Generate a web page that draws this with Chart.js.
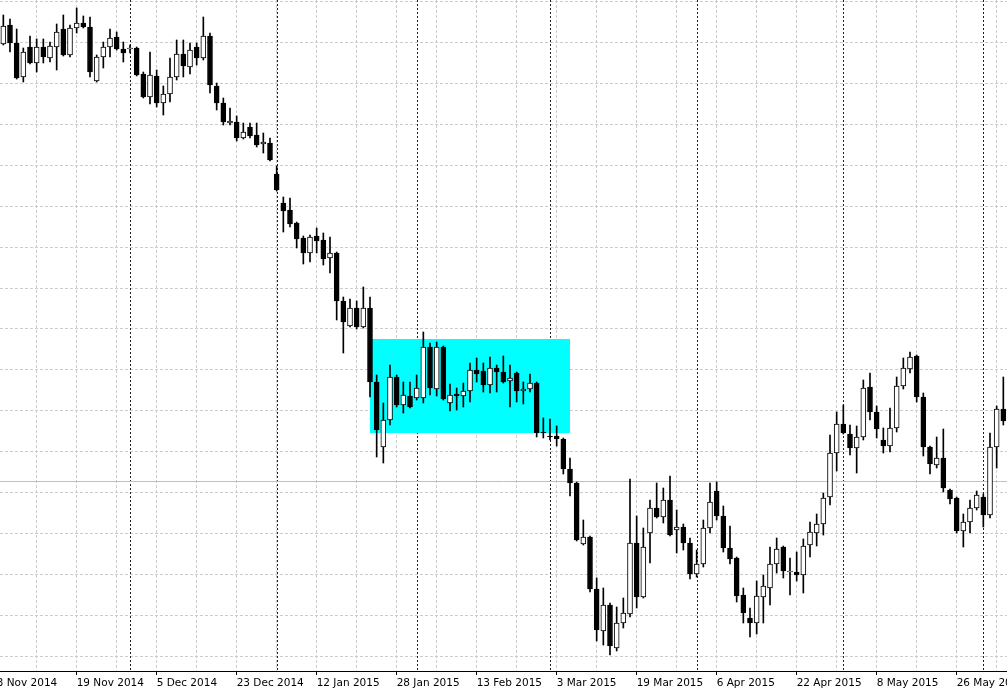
<!DOCTYPE html>
<html>
<head>
<meta charset="utf-8">
<title>Daily candles</title>
<script src="https://cdn.jsdelivr.net/npm/chart.js@4.4.1/dist/chart.umd.min.js"></script>
<style>
    html, body { margin: 0; padding: 0; background: #fff; }
    #wrap { width: 1007px; height: 691px; }
</style>
</head>
<body>
<div id="wrap"><canvas id="myChart" width="1007" height="691"></canvas></div>
<script>
/*-----------------------------Data (one bar per trading day, first bar = 4 Nov 2014)------------*/
const opens = [
    656, 675, 657, 623, 653, 637, 653, 642, 653, 671,
    645, 672, 677, 673, 619, 643, 653, 663, 651, 651,
    652, 626, 603, 624, 597, 606, 623, 646, 633, 653,
    642, 664, 614, 597, 577, 578, 562, 573, 565, 556,
    557, 526, 497, 490, 477, 462, 447, 464, 460, 442,
    447, 399, 374, 392, 373, 392, 318, 253, 280, 323,
    295, 304, 302, 302, 353, 311, 353, 297, 306, 304,
    309, 330, 329, 315, 332, 328, 319, 327, 309, 311,
    317, 268, 264, 264, 261, 231, 217, 156, 163, 111,
    69, 95, 52, 77, 86, 157, 103, 167, 192, 183,
    200, 170, 173, 157, 126, 136, 172, 209, 184, 152,
    142, 105, 82, 77, 103, 112, 136, 153, 128, 128,
    125, 155, 167, 176, 203, 247, 276, 266, 252, 263,
    313, 288, 260, 254, 272, 314, 331, 344, 303, 253,
    235, 242, 210, 202, 169, 178, 192, 203, 185, 253,
    291
];
const highs = [
    685, 681, 671, 652, 664, 661, 661, 658, 676, 685,
    675, 692, 684, 683, 645, 658, 671, 668, 658, 655,
    653, 628, 648, 630, 614, 642, 660, 660, 657, 657,
    683, 667, 617, 602, 592, 584, 577, 577, 577, 567,
    562, 534, 503, 502, 478, 464, 465, 472, 467, 463,
    448, 403, 401, 399, 413, 403, 325, 297, 335, 325,
    318, 318, 325, 368, 357, 358, 354, 316, 312, 317,
    337, 342, 337, 343, 335, 344, 335, 328, 318, 326,
    318, 282, 281, 274, 262, 242, 218, 180, 164, 122,
    112, 97, 93, 102, 221, 184, 172, 200, 217, 212,
    224, 190, 176, 162, 150, 180, 217, 218, 194, 174,
    143, 112, 92, 119, 125, 153, 162, 154, 142, 148,
    161, 178, 186, 207, 265, 288, 295, 275, 274, 320,
    327, 294, 272, 292, 323, 342, 348, 345, 307, 254,
    263, 271, 211, 203, 186, 200, 209, 206, 267, 294,
    323
];
const lows = [
    655, 648, 621, 618, 636, 628, 637, 638, 630, 644,
    643, 667, 672, 623, 618, 632, 643, 650, 638, 647,
    624, 602, 596, 593, 585, 598, 620, 623, 626, 635,
    640, 607, 590, 575, 575, 559, 561, 562, 553, 547,
    539, 509, 468, 473, 452, 436, 438, 447, 435, 427,
    380, 347, 373, 371, 372, 303, 243, 237, 275, 293,
    287, 292, 300, 297, 305, 304, 300, 289, 290, 293,
    298, 318, 308, 307, 308, 317, 293, 298, 296, 308,
    263, 262, 260, 254, 226, 204, 159, 155, 108, 59,
    55, 45, 49, 72, 83, 92, 102, 137, 182, 177,
    164, 147, 150, 121, 123, 133, 167, 180, 148, 136,
    98, 77, 63, 66, 77, 95, 127, 122, 105, 119,
    107, 143, 154, 165, 195, 229, 266, 245, 227, 260,
    280, 262, 247, 248, 268, 311, 327, 298, 244, 226,
    232, 208, 196, 167, 153, 167, 190, 173, 182, 232,
    275
];
const closes = [
    674, 657, 622, 648, 637, 653, 643, 654, 668, 645,
    672, 677, 673, 628, 643, 653, 662, 651, 647, 651,
    625, 603, 625, 597, 606, 623, 646, 634, 650, 642,
    664, 615, 597, 578, 579, 562, 568, 564, 555, 558,
    540, 510, 489, 476, 461, 447, 463, 459, 441, 447,
    399, 378, 392, 373, 392, 318, 270, 280, 323, 295,
    305, 293, 312, 353, 312, 353, 301, 305, 304, 309,
    330, 326, 315, 332, 328, 318, 322, 309, 311, 317,
    267, 267, 263, 261, 231, 217, 160, 163, 111, 70,
    95, 54, 77, 87, 157, 103, 153, 192, 183, 200,
    165, 173, 157, 126, 136, 172, 198, 184, 152, 141,
    104, 87, 77, 104, 114, 136, 151, 129, 128, 125,
    154, 168, 176, 202, 247, 276, 267, 252, 263, 312,
    288, 271, 254, 272, 314, 332, 343, 303, 253, 236,
    242, 212, 201, 169, 178, 192, 205, 185, 253, 291,
    279
];

// date labels, one every 12 bars starting one bar before the first bar (3 Nov 2014)
const tickLabels = [
    '3 Nov 2014', '19 Nov 2014', '5 Dec 2014', '23 Dec 2014', '12 Jan 2015',
    '28 Jan 2015', '13 Feb 2015', '3 Mar 2015', '19 Mar 2015', '6 Apr 2015',
    '22 Apr 2015', '8 May 2015', '26 May 2015'
];
const firstTickBar = -1;
const labelEvery = 12;
const gridEvery = 6;

// first bar of each month (Dec, Jan, Feb, Mar, Apr, May, Jun)
const monthStarts = [19, 41, 62, 82, 104, 126, 147];

// highlighted range: from bar, to bar, bottom, top
const zoneBox = [55, 85, 267, 361];
// horizontal level line
const levelLine = [219];

// price grid levels
const gridTop = 698.3;
const gridStep = 40.9;
const gridCount = 17;

/*-----------------------------Helpers-------------------------------------------------*/
let gridLevels = [];
for (let i = 0; i < gridCount; i++) {
    gridLevels.push(gridTop - i * gridStep);
}

let xTicks = [];
for (let b = firstTickBar; b < opens.length; b += gridEvery) {
    xTicks.push(b);
}

let wickData = opens.map(function (o, i) {
    return { x: i, y: [lows[i], highs[i]] };
});
let bodyData = opens.map(function (o, i) {
    let lo = Math.min(o, closes[i]);
    let hi = Math.max(o, closes[i]);
    if (hi - lo < 1) { hi = lo + 1; }
    return { x: i, y: [lo, hi] };
});
let bodyColors = opens.map(function (o, i) {
    return closes[i] >= o ? '#ffffff' : '#000000';
});

/*-----------------------------Overlays (separators, box, level)-----------------------*/
const overlays = {
    id: 'overlays',
    beforeDatasetsDraw: function (chart) {
        const ctx = chart.ctx;
        const area = chart.chartArea;
        const xs = chart.scales.x;
        const ys = chart.scales.y;
        ctx.save();

        // month separators
        ctx.strokeStyle = '#1e1e1e';
        ctx.lineWidth = 1;
        ctx.setLineDash([2, 2]);
        monthStarts.forEach(function (b) {
            let px = Math.round(xs.getPixelForValue(b)) + 0.5;
            ctx.beginPath();
            ctx.moveTo(px, area.top);
            ctx.lineTo(px, area.bottom);
            ctx.stroke();
        });

        // level line
        ctx.setLineDash([]);
        ctx.strokeStyle = '#c0c0c0';
        let ly = Math.round(ys.getPixelForValue(levelLine[0])) + 0.5;
        ctx.beginPath();
        ctx.moveTo(area.left, ly);
        ctx.lineTo(area.right, ly);
        ctx.stroke();

        // box
        let x1 = xs.getPixelForValue(zoneBox[0]);
        let x2 = xs.getPixelForValue(zoneBox[1]);
        let y1 = ys.getPixelForValue(zoneBox[3]);
        let y2 = ys.getPixelForValue(zoneBox[2]);
        ctx.fillStyle = '#00ffff';
        ctx.fillRect(Math.round(x1), Math.round(y1), Math.round(x2 - x1), Math.round(y2 - y1));

        ctx.restore();
    }
};

/*-----------------------------Chart-------------------------------------------------*/
let myChart = document.getElementById('myChart').getContext('2d');

let candleChart = new Chart(myChart, {
    type: 'bar',
    data: {
        datasets: [{
            label: 'Body',
            data: bodyData,
            grouped: false,
            barThickness: 5,
            backgroundColor: bodyColors,
            borderColor: '#000000',
            borderWidth: 1,
            borderSkipped: false
        }, {
            label: 'Wick',
            data: wickData,
            grouped: false,
            barThickness: 1,
            backgroundColor: '#000000',
            borderWidth: 0
        }]
    },
    options: {
        responsive: false,
        animation: false,
        layout: { padding: 0 },
        plugins: {
            legend: { display: false },
            tooltip: { enabled: false },
            title: { display: false }
        },
        scales: {
            x: {
                type: 'linear',
                bounds: 'data',
                min: -0.5,
                max: 150.55,
                offset: false,
                afterBuildTicks: function (scale) {
                    scale.ticks = xTicks.map(function (v) { return { value: v }; });
                },
                afterFit: function (scale) {
                    scale.paddingLeft = 0;
                    scale.paddingRight = 0;
                    scale.height = 20;
                },
                grid: {
                    offset: false,
                    color: '#cccccc',
                    lineWidth: 1,
                    drawTicks: true,
                    tickLength: 4,
                    tickBorderDash: [],
                    tickColor: function (ctx) {
                        if (!ctx.tick) return 'rgba(0,0,0,0)';
                        return (ctx.tick.value - firstTickBar) % labelEvery === 0 ? '#000000' : 'rgba(0,0,0,0)';
                    }
                },
                border: {
                    display: true,
                    color: '#000000',
                    width: 1,
                    dash: [3, 2]
                },
                ticks: {
                    autoSkip: false,
                    maxRotation: 0,
                    minRotation: 0,
                    align: 'start',
                    padding: 2,
                    color: '#000000',
                    font: { family: 'DejaVu Sans', size: 10.5 },
                    callback: function (value) {
                        let n = (value - firstTickBar) / labelEvery;
                        return Number.isInteger(n) && tickLabels[n] ? tickLabels[n] : '';
                    }
                }
            },
            y: {
                type: 'linear',
                bounds: 'data',
                min: 29,
                max: 700,
                beginAtZero: false,
                afterBuildTicks: function (scale) {
                    scale.ticks = gridLevels.map(function (v) { return { value: v }; });
                },
                grid: {
                    color: '#cccccc',
                    lineWidth: 1,
                    drawTicks: false
                },
                border: {
                    display: false,
                    dash: [3, 2]
                },
                ticks: { display: false }
            }
        }
    },
    plugins: [overlays]
});
</script>
</body>
</html>
